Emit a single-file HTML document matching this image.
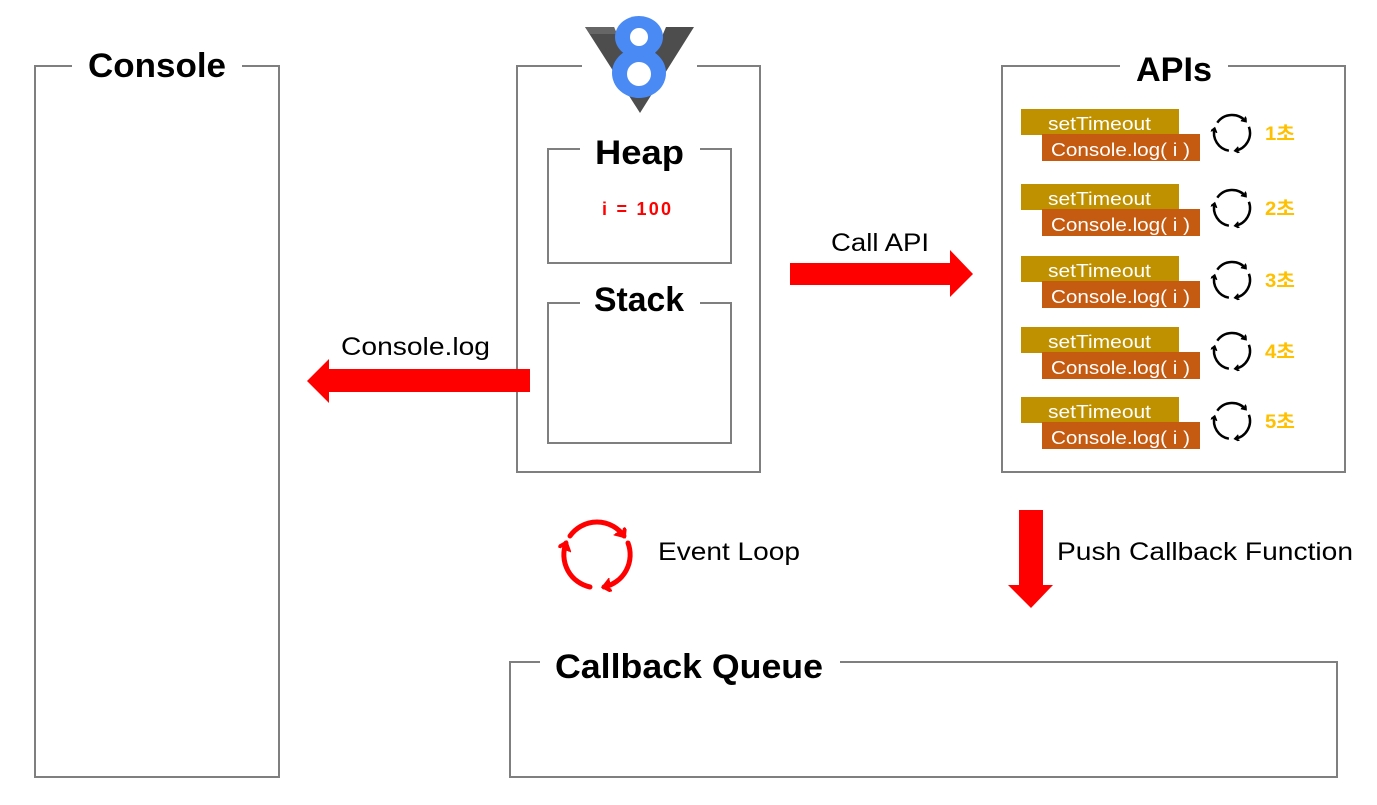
<!DOCTYPE html>
<html><head><meta charset="utf-8"><style>
html,body{margin:0;padding:0;background:#fff;}
svg{display:block;}
text{font-family:"Liberation Sans","Noto Sans CJK KR",sans-serif;}
</style></head><body>
<svg width="1377" height="805" viewBox="0 0 1377 805" xmlns="http://www.w3.org/2000/svg">
<defs>
<marker id="mk" markerWidth="8" markerHeight="8" refX="4" refY="3" orient="auto" markerUnits="userSpaceOnUse">
<path d="M0,0 L4,3 L0,6" fill="none" stroke="#000" stroke-width="2"/>
</marker>
<marker id="mkr" markerWidth="14" markerHeight="14" refX="7" refY="6" orient="auto" markerUnits="userSpaceOnUse">
<path d="M0,0 L7,6 L0,12" fill="none" stroke="#f00" stroke-width="4" stroke-linecap="round"/>
</marker>
<g id="cyc" fill="none" stroke="#000" stroke-width="2.5">
<path d="M-14.7,-10.3 A18,18 0 0 1 13.8,-11.6" marker-end="url(#mk)"/>
<path d="M16.9,-6.2 A18,18 0 0 1 3.1,17.7" marker-end="url(#mk)"/>
<path d="M-3.1,17.7 A18,18 0 0 1 -17.4,-4.7" marker-end="url(#mk)"/>
</g>
</defs>
<g fill="none" stroke="#7f7f7f" stroke-width="2">
<path d="M72,66 H35 V777 H279 V66 H242"/>
<path d="M582,66 H517 V472 H760 V66 H697"/>
<path d="M580,149 H548 V263 H731 V149 H700"/>
<path d="M580,303 H548 V443 H731 V303 H700"/>
<path d="M1120,66 H1002 V472 H1345 V66 H1228"/>
<path d="M540,662 H510 V777 H1337 V662 H840"/>
</g>
<g font-weight="bold" font-size="34" fill="#000" lengthAdjust="spacingAndGlyphs">
<text x="88" y="77" textLength="138" lengthAdjust="spacingAndGlyphs">Console</text>
<text x="595" y="164" textLength="89" lengthAdjust="spacingAndGlyphs">Heap</text>
<text x="594" y="311" textLength="90" lengthAdjust="spacingAndGlyphs">Stack</text>
<text x="1136" y="81" textLength="76" lengthAdjust="spacingAndGlyphs">APIs</text>
<text x="555" y="678" textLength="268" lengthAdjust="spacingAndGlyphs">Callback Queue</text>
</g>
<text x="602" y="215" font-size="18" font-weight="bold" fill="#f00" textLength="69" lengthAdjust="spacing">i = 100</text>
<!-- V8 logo -->
<polygon points="585,27 614,27 640,88 666,27 694,27 640,113" fill="#4d4d4d"/>
<polygon points="585,27 614,27 617,34 590,34" fill="#666"/>
<ellipse cx="639" cy="37" rx="24" ry="21" fill="#4a8af4"/>
<ellipse cx="639" cy="73" rx="27" ry="25" fill="#4a8af4"/>
<ellipse cx="639" cy="37" rx="9" ry="9" fill="#fff"/>
<ellipse cx="639" cy="74" rx="12" ry="12" fill="#fff"/>
<!-- arrows -->
<polygon points="790,263 950,263 950,250 973,274 950,297 950,285 790,285" fill="#f00"/>
<polygon points="530,369 329,369 329,359 307,381 329,403 329,392 530,392" fill="#f00"/>
<polygon points="1019,510 1043,510 1043,585 1053,585 1031,608 1008,585 1019,585" fill="#f00"/>
<g font-size="25" fill="#000">
<text x="831" y="251" textLength="98" lengthAdjust="spacingAndGlyphs">Call API</text>
<text x="341" y="355" textLength="149" lengthAdjust="spacingAndGlyphs">Console.log</text>
<text x="658" y="560" textLength="142" lengthAdjust="spacingAndGlyphs">Event Loop</text>
<text x="1057" y="560" textLength="296" lengthAdjust="spacingAndGlyphs">Push Callback Function</text>
</g>
<!-- event loop -->
<g fill="none" stroke="#f00" stroke-width="5" stroke-linecap="round" transform="translate(597,555)">
<path d="M-27,-19 A33,33 0 0 1 27,-19" marker-end="url(#mkr)"/>
<path d="M31,-12 A33,33 0 0 1 7,32" marker-end="url(#mkr)"/>
<path d="M-7,32 A33,33 0 0 1 -31,-12" marker-end="url(#mkr)"/>
</g>
<!-- API items -->
<g font-size="18">
<g transform="translate(0,0)">
<rect x="1021" y="109" width="158" height="26" fill="#bf9000"/><rect x="1042" y="134" width="158" height="27" fill="#c55a11"/>
<text x="1048" y="130" fill="#fff" textLength="103" lengthAdjust="spacingAndGlyphs">setTimeout</text><text x="1051" y="156" fill="#fff" textLength="139" lengthAdjust="spacingAndGlyphs">Console.log( i )</text>
<use href="#cyc" x="1232" y="133"/><text x="1265" y="140" font-size="19" fill="#ffc000" font-weight="bold" textLength="30" lengthAdjust="spacingAndGlyphs">1초</text></g>
<g transform="translate(0,75)">
<rect x="1021" y="109" width="158" height="26" fill="#bf9000"/><rect x="1042" y="134" width="158" height="27" fill="#c55a11"/>
<text x="1048" y="130" fill="#fff" textLength="103" lengthAdjust="spacingAndGlyphs">setTimeout</text><text x="1051" y="156" fill="#fff" textLength="139" lengthAdjust="spacingAndGlyphs">Console.log( i )</text>
<use href="#cyc" x="1232" y="133"/><text x="1265" y="140" font-size="19" fill="#ffc000" font-weight="bold" textLength="30" lengthAdjust="spacingAndGlyphs">2초</text></g>
<g transform="translate(0,147)">
<rect x="1021" y="109" width="158" height="26" fill="#bf9000"/><rect x="1042" y="134" width="158" height="27" fill="#c55a11"/>
<text x="1048" y="130" fill="#fff" textLength="103" lengthAdjust="spacingAndGlyphs">setTimeout</text><text x="1051" y="156" fill="#fff" textLength="139" lengthAdjust="spacingAndGlyphs">Console.log( i )</text>
<use href="#cyc" x="1232" y="133"/><text x="1265" y="140" font-size="19" fill="#ffc000" font-weight="bold" textLength="30" lengthAdjust="spacingAndGlyphs">3초</text></g>
<g transform="translate(0,218)">
<rect x="1021" y="109" width="158" height="26" fill="#bf9000"/><rect x="1042" y="134" width="158" height="27" fill="#c55a11"/>
<text x="1048" y="130" fill="#fff" textLength="103" lengthAdjust="spacingAndGlyphs">setTimeout</text><text x="1051" y="156" fill="#fff" textLength="139" lengthAdjust="spacingAndGlyphs">Console.log( i )</text>
<use href="#cyc" x="1232" y="133"/><text x="1265" y="140" font-size="19" fill="#ffc000" font-weight="bold" textLength="30" lengthAdjust="spacingAndGlyphs">4초</text></g>
<g transform="translate(0,288)">
<rect x="1021" y="109" width="158" height="26" fill="#bf9000"/><rect x="1042" y="134" width="158" height="27" fill="#c55a11"/>
<text x="1048" y="130" fill="#fff" textLength="103" lengthAdjust="spacingAndGlyphs">setTimeout</text><text x="1051" y="156" fill="#fff" textLength="139" lengthAdjust="spacingAndGlyphs">Console.log( i )</text>
<use href="#cyc" x="1232" y="133"/><text x="1265" y="140" font-size="19" fill="#ffc000" font-weight="bold" textLength="30" lengthAdjust="spacingAndGlyphs">5초</text></g>
</g>
</svg>
</body></html>
